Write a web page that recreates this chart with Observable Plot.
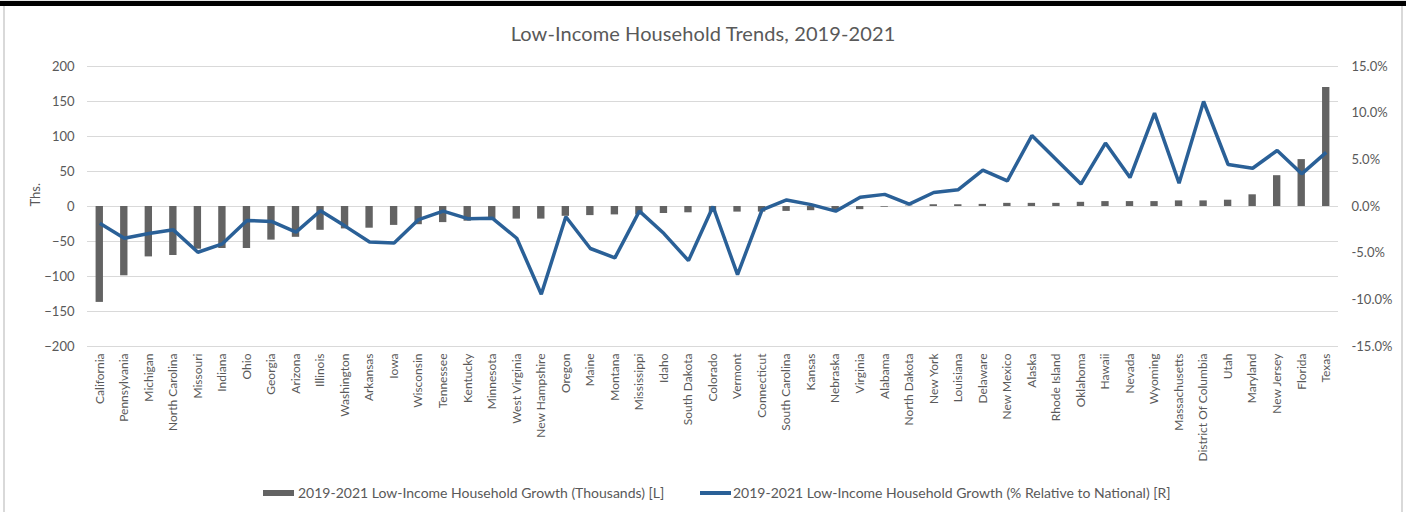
<!DOCTYPE html>
<html>
<head>
<meta charset="utf-8">
<script src="https://cdn.jsdelivr.net/npm/d3@7"></script>
<script src="https://cdn.jsdelivr.net/npm/@observablehq/plot@0.6"></script>
<style>
  html, body { margin: 0; padding: 0; background: #fff; }
  #wrap { position: relative; width: 1406px; height: 512px; overflow: hidden; font-family: Lato, "Open Sans", sans-serif; color: #595959; }
  #topgray { position: absolute; left: 0; top: 0; width: 1406px; height: 1px; background: #e6e6e6; }
  #topbar { position: absolute; left: 0; top: 1px; width: 1406px; height: 5px; background: #000; }
  #lborder { position: absolute; left: 3px; top: 6px; width: 2px; height: 506px; background: #d9d9d9; }
  #rborder { position: absolute; left: 1401px; top: 6px; width: 2px; height: 506px; background: #d9d9d9; }
  #title { position: absolute; left: 0; width: 1406px; top: 20px; text-align: center; font-size: 20px; line-height: 26px; letter-spacing: 0.1px; }
  #chart { position: absolute; left: 0; top: 50px; }
  .leg { position: absolute; font-size: 14px; line-height: 16px; top: 485px; white-space: nowrap; }
  .sw { position: absolute; }
</style>
</head>
<body>
<div id="wrap">
  <div id="topgray"></div>
  <div id="topbar"></div>
  <div id="lborder"></div>
  <div id="rborder"></div>
  <div id="title"></div>
  <div id="chart"></div>
  <div class="sw" id="sw1" style="left:263px; top:490px; width:31px; height:6px;"></div>
  <div class="leg" id="leg1" style="left:298px;"></div>
  <div class="sw" id="sw2" style="left:700px; top:491px; width:31px; height:4px;"></div>
  <div class="leg" id="leg2" style="left:733px;"></div>
</div>
<script>
const titleText = "Low-Income Household Trends, 2019-2021";
const seriesBarName = "2019-2021 Low-Income Household Growth (Thousands) [L]";
const seriesLineName = "2019-2021 Low-Income Household Growth (% Relative to National) [R]";
const leftAxisLabel = "Ths.";

const states = ["California","Pennsylvania","Michigan","North Carolina","Missouri","Indiana","Ohio","Georgia","Arizona","Illinois","Washington","Arkansas","Iowa","Wisconsin","Tennessee","Kentucky","Minnesota","West Virginia","New Hampshire","Oregon","Maine","Montana","Mississippi","Idaho","South Dakota","Colorado","Vermont","Connecticut","South Carolina","Kansas","Nebraska","Virginia","Alabama","North Dakota","New York","Louisiana","Delaware","New Mexico","Alaska","Rhode Island","Oklahoma","Hawaii","Nevada","Wyoming","Massachusetts","District Of Columbia","Utah","Maryland","New Jersey","Florida","Texas"];

const growthThousands = [-137,-99,-72,-70,-61,-60,-60,-48,-44,-34,-32,-31,-27,-26,-23,-21,-19,-18,-18,-14,-13,-12,-12,-10,-9,-8.5,-8,-8,-7,-6,-6,-4.5,-1,0.5,2.5,2.5,3,4.5,4.5,4.5,6,7,7,7,8,8,9,16.7,44,67,170];

const growthPctRelative = [-1.8,-3.4,-2.9,-2.5,-4.9,-4.0,-1.5,-1.6,-2.75,-0.46,-2.1,-3.8,-3.9,-1.4,-0.5,-1.3,-1.25,-3.4,-9.4,-1.1,-4.5,-5.5,-0.5,-2.9,-5.8,0,-7.3,-0.36,0.7,0.2,-0.5,1.0,1.3,0.25,1.5,1.8,3.9,2.75,7.6,5.0,2.4,6.8,3.1,10.0,2.5,11.25,4.5,4.1,6.0,3.5,5.8];

const leftTicks = [-200,-150,-100,-50,0,50,100,150,200];
const rightTicksPct = [-15,-10,-5,0,5,10,15];

const barColor = "#636363";
const lineColor = "#2a6097";
const gridColor = "#d9d9d9";
const textColor = "#595959";

// left axis spans -200..200 thousands; right axis spans -15%..15%
const leftMax = 200, rightMax = 15;
const pctToLeft = p => p * leftMax / rightMax;

const data = states.map((s, i) => ({state: s, ths: growthThousands[i], pct: growthPctRelative[i]}));

document.getElementById("title").textContent = titleText;
document.getElementById("leg1").textContent = seriesBarName;
document.getElementById("leg2").textContent = seriesLineName;
document.getElementById("sw1").style.background = barColor;
document.getElementById("sw2").style.background = lineColor;

const chart = Plot.plot({
  width: 1406,
  height: 415,
  marginTop: 16,
  marginBottom: 119,
  marginLeft: 87,
  marginRight: 68,
  style: {fontFamily: "Lato, 'Open Sans', sans-serif", color: textColor, background: "transparent", overflow: "visible"},
  x: {type: "band", domain: states, paddingInner: 0.7, paddingOuter: 0.35, align: 0.5, round: false},
  y: {domain: [-leftMax, leftMax]},
  marks: [
    Plot.ruleY(leftTicks, {stroke: gridColor, strokeWidth: 1}),
    Plot.barY(data, {x: "state", y: "ths", fill: barColor}),
    Plot.line(data, {x: "state", y: d => pctToLeft(d.pct), stroke: lineColor, strokeWidth: 3.5, strokeLinejoin: "miter", strokeLinecap: "butt"}),
    Plot.axisY({anchor: "left", ticks: leftTicks, tickSize: 0, tickPadding: 13, label: null, fontSize: 13, fill: textColor}),
    Plot.axisY({anchor: "right", ticks: rightTicksPct.map(pctToLeft), tickSize: 0, tickPadding: 13, label: null, fontSize: 13, fill: textColor,
      tickFormat: d => (d * rightMax / leftMax).toFixed(1) + "%", textAnchor: "start"}),
    Plot.axisX({anchor: "bottom", tickRotate: -90, tickSize: 0, tickPadding: 7, label: null, fontSize: 12, fill: textColor}),
    Plot.text([leftAxisLabel], {frameAnchor: "left", dx: -52, rotate: -90, fontSize: 13, fill: textColor})
  ]
});
document.getElementById("chart").appendChild(chart);
</script>
</body>
</html>
